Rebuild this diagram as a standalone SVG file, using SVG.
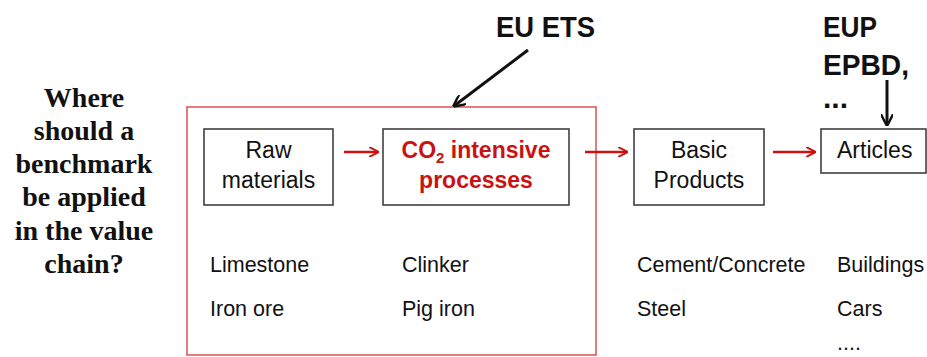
<svg xmlns="http://www.w3.org/2000/svg" width="927" height="357" viewBox="0 0 927 357">
<defs>
<style>
.box{fill:#fff;stroke:#404040;stroke-width:1.6}
.t{font-family:"Liberation Sans",Arial,sans-serif;font-size:23px;fill:#111}
.l{font-family:"Liberation Sans",Arial,sans-serif;font-size:21.5px;fill:#111}
.h{font-family:"Liberation Sans",Arial,sans-serif;font-size:30px;font-weight:bold;fill:#111}
.q{font-family:"Liberation Serif","Times New Roman",serif;font-size:28px;font-weight:bold;fill:#111;text-anchor:middle}
.red{stroke:#cc1111;stroke-width:2.5;fill:none}
.blk{stroke:#111;stroke-width:3;fill:none}
</style>
<marker id="ar" viewBox="0 0 10 10" refX="9" refY="5" markerWidth="4" markerHeight="4" orient="auto" markerUnits="strokeWidth">
<path d="M0,0 L10,5 L0,10" fill="none" stroke="#cc1111" stroke-width="2"/>
</marker>
<marker id="ab" viewBox="0 0 10 10" refX="9" refY="5" markerWidth="4" markerHeight="4" orient="auto" markerUnits="strokeWidth">
<path d="M0,0 L10,5 L0,10" fill="none" stroke="#111" stroke-width="2"/>
</marker>
</defs>
<rect width="927" height="357" fill="#fff"/>
<g id="question">
<text class="q" x="84" y="107">Where</text>
<text class="q" x="84" y="140">should a</text>
<text class="q" x="84" y="173">benchmark</text>
<text class="q" x="84" y="206">be applied</text>
<text class="q" x="84" y="240">in the value</text>
<text class="q" x="84" y="273">chain?</text>
</g>
<g id="eu-ets-scope">
<rect x="187" y="107" width="409" height="248" fill="none" stroke="#e05a5a" stroke-width="1.6"/>
</g>
<g id="raw-materials">
<rect class="box" x="204" y="129" width="129" height="76"/>
<text class="t" x="268.5" y="158" text-anchor="middle">Raw</text>
<text class="t" x="268.5" y="188" text-anchor="middle">materials</text>
<text class="l" x="210" y="272">Limestone</text>
<text class="l" x="210" y="316">Iron ore</text>
</g>
<g id="co2-processes">
<rect class="box" x="383" y="129" width="186" height="76"/>
<text class="t" x="476" y="158" text-anchor="middle" font-weight="bold" style="fill:#cc1111">CO<tspan font-size="15" dy="5">2</tspan><tspan dy="-5"> intensive</tspan></text>
<text class="t" x="476" y="188" text-anchor="middle" font-weight="bold" style="fill:#cc1111">processes</text>
<text class="l" x="402" y="272">Clinker</text>
<text class="l" x="402" y="316">Pig iron</text>
</g>
<g id="basic-products">
<rect class="box" x="634" y="129" width="130" height="76"/>
<text class="t" x="699" y="158" text-anchor="middle">Basic</text>
<text class="t" x="699" y="188" text-anchor="middle">Products</text>
<text class="l" x="637" y="272">Cement/Concrete</text>
<text class="l" x="637" y="316">Steel</text>
</g>
<g id="articles">
<rect class="box" x="821" y="129" width="105" height="44"/>
<text class="t" x="837" y="158">Articles</text>
<text class="l" x="837" y="272">Buildings</text>
<text class="l" x="837" y="316">Cars</text>
<text class="l" x="837" y="350">....</text>
</g>
<g id="eu-ets">
<text class="h" x="496" y="37" textLength="99" lengthAdjust="spacingAndGlyphs">EU ETS</text>
</g>
<g id="eup-epbd">
<text class="h" x="823" y="37" textLength="54" lengthAdjust="spacingAndGlyphs">EUP</text>
<text class="h" x="823" y="75" textLength="86" lengthAdjust="spacingAndGlyphs">EPBD,</text>
<text class="h" x="823" y="108">...</text>
</g>
<g id="connectors">
<line class="red" x1="344" y1="152" x2="378" y2="152" marker-end="url(#ar)"/>
<line class="red" x1="585" y1="152" x2="627" y2="152" marker-end="url(#ar)"/>
<line class="red" x1="773" y1="152" x2="815" y2="152" marker-end="url(#ar)"/>
<line class="blk" x1="528" y1="50" x2="454" y2="106" marker-end="url(#ab)"/>
<line class="blk" x1="887" y1="80" x2="887" y2="125" marker-end="url(#ab)"/>
</g>
</svg>
